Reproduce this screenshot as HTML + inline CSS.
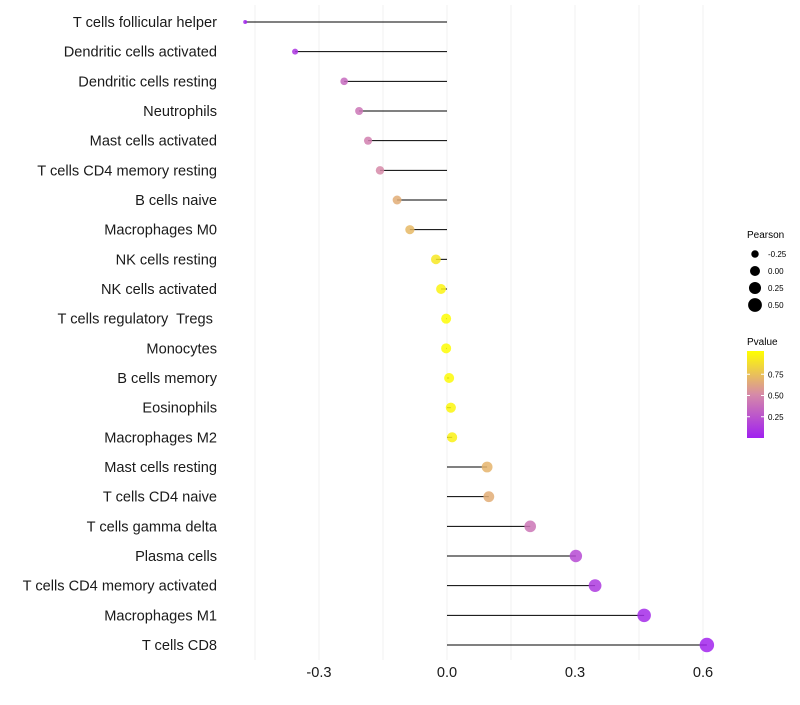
<!DOCTYPE html>
<html><head><meta charset="utf-8"><style>
body{margin:0;background:#fff;font-family:"Liberation Sans",sans-serif}
</style></head><body>
<svg id="chart" width="800" height="700" xmlns="http://www.w3.org/2000/svg">
<defs><linearGradient id="pg" x1="0" y1="1" x2="0" y2="0">
<stop offset="0" stop-color="#a020f0"/><stop offset="0.5" stop-color="#d68aa8"/><stop offset="1" stop-color="#ffff00"/></linearGradient></defs>
<g id="grid"></g><g id="marks"></g><g id="labels"></g><g id="ticks"></g>
<g font-size="9">
<text x="747" y="238" font-size="10">Pearson</text>
<g id="sizeLeg"></g>
<text x="747" y="345" font-size="10">Pvalue</text>
<rect x="747" y="351" width="17" height="87" fill="url(#pg)"/>
<g id="colLeg"></g>
</g>
</svg>
<script>
const categories=["T cells follicular helper","Dendritic cells activated","Dendritic cells resting","Neutrophils","Mast cells activated","T cells CD4 memory resting","B cells naive","Macrophages M0","NK cells resting","NK cells activated","T cells regulatory\u00a0 Tregs\u00a0","Monocytes","B cells memory","Eosinophils","Macrophages M2","Mast cells resting","T cells CD4 naive","T cells gamma delta","Plasma cells","T cells CD4 memory activated","Macrophages M1","T cells CD8"];
const pearson=[-0.473,-0.356,-0.241,-0.206,-0.185,-0.157,-0.117,-0.087,-0.026,-0.014,-0.002,-0.002,0.005,0.009,0.012,0.094,0.098,0.195,0.302,0.347,0.462,0.609];
const pvalue=[0.02,0.1,0.35,0.4,0.45,0.5,0.65,0.7,0.9,0.95,0.99,0.99,0.98,0.96,0.94,0.68,0.65,0.4,0.2,0.12,0.05,0.02];
const xTicks=[-0.3,0.0,0.3,0.6];
const xTickLabels=["-0.3","0.0","0.3","0.6"];
const sizeLegVals=[-0.25,0.00,0.25,0.50];
const sizeLegLabels=["-0.25","0.00","0.25","0.50"];
const colLegVals=[0.25,0.5,0.75];
const colLegLabels=["0.25","0.50","0.75"];
const NS="http://www.w3.org/2000/svg";
const x=v=>447+v*426.7;
const y=i=>22+i*29.667;
const r=v=>Math.sqrt(Math.max(1,25.1+44.9*v));
function lerp(a,b,t){return a.map((c,k)=>Math.round(c+(b[k]-c)*t));}
function col(p){const A=[160,32,240],B=[214,138,168],C=[255,255,0];const c=p<0.5?lerp(A,B,p/0.5):lerp(B,C,(p-0.5)/0.5);return `rgb(${c})`;}
function mk(tag,attrs,parent){const e=document.createElementNS(NS,tag);for(const k in attrs)e.setAttribute(k,attrs[k]);parent.appendChild(e);return e;}
const grid=document.getElementById('grid'),marks=document.getElementById('marks'),labels=document.getElementById('labels'),ticks=document.getElementById('ticks');
for(let v=-0.45;v<=0.61;v+=0.15){const g=mk('line',{x1:x(v),x2:x(v),y1:5,y2:660,stroke:'#f0f0f0','stroke-width':1},grid);

}
categories.forEach((c,i)=>{
const l=mk('line',{x1:x(0),x2:x(pearson[i]),y1:y(i),y2:y(i),stroke:'#000','stroke-width':1},marks);


const d=mk('circle',{cx:x(pearson[i]),cy:y(i),r:r(pearson[i]),fill:col(pvalue[i]),'fill-opacity':0.85},marks);


const t=mk('text',{x:217,y:y(i)+5,'text-anchor':'end','font-size':14.6,fill:'#1a1a1a'},labels);t.textContent=c;


});
xTicks.forEach((v,i)=>{const t=mk('text',{x:x(v),y:677,'text-anchor':'middle','font-size':14.6,fill:'#1a1a1a'},ticks);t.textContent=xTickLabels[i];

});
const sl=document.getElementById('sizeLeg');
sizeLegVals.forEach((v,i)=>{const cy=254+i*17;const c=mk('circle',{cx:755,cy:cy,r:r(v),fill:'#000'},sl);


const t=mk('text',{x:768,y:cy+3,'font-size':8},sl);t.textContent=sizeLegLabels[i];

});
const cl=document.getElementById('colLeg');
colLegVals.forEach((v,i)=>{const cy=438-v*85;mk('line',{x1:747,x2:750,y1:cy,y2:cy,stroke:'#fff'},cl);mk('line',{x1:761,x2:764,y1:cy,y2:cy,stroke:'#fff'},cl);
const t=mk('text',{x:768,y:cy+3,'font-size':8},cl);t.textContent=colLegLabels[i];

});
</script>
</body></html>
